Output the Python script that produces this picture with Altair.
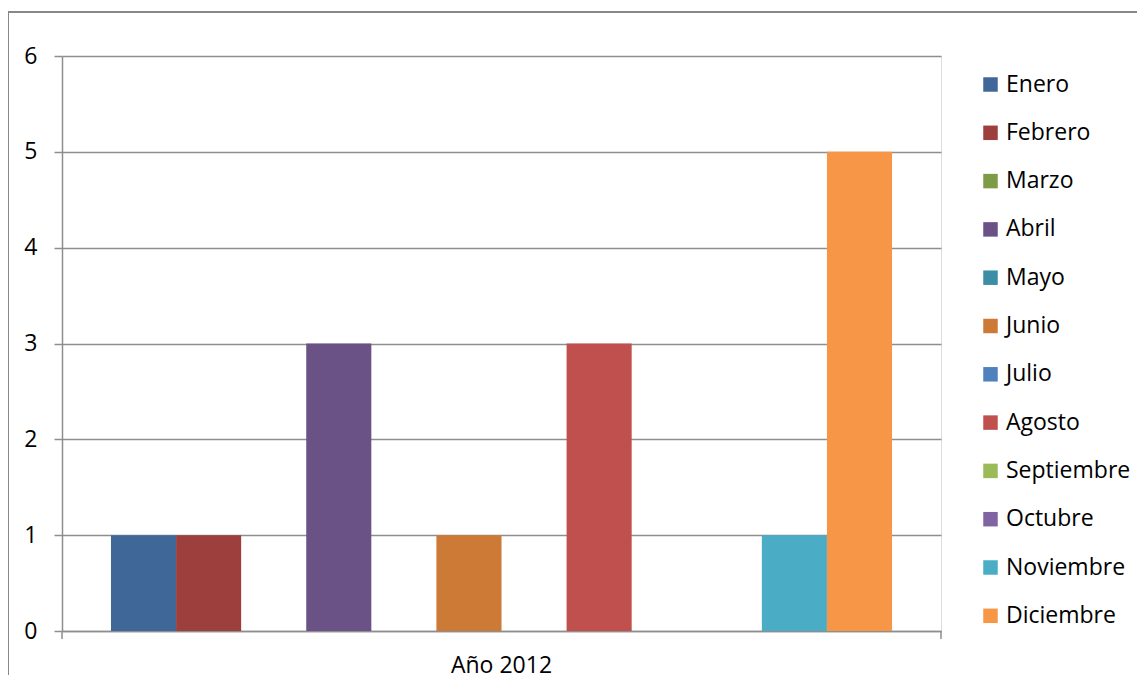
import altair as alt
import pandas as pd

meses = ["Enero", "Febrero", "Marzo", "Abril", "Mayo", "Junio", "Julio",
         "Agosto", "Septiembre", "Octubre", "Noviembre", "Diciembre"]
valores = [1, 1, 0, 3, 0, 1, 0, 3, 0, 0, 1, 5]
colores = ["#3F6899", "#9C3F3D", "#7E9B48", "#6A5186", "#3B8EA5", "#CC7A36",
           "#4F81BD", "#C0504D", "#9BBB59", "#8064A2", "#4BACC6", "#F79646"]
grupo = ["Año 2012"]
y_ticks = [0, 1, 2, 3, 4, 5, 6]

df = pd.DataFrame({"grupo": grupo * len(meses), "mes": meses, "valor": valores})

W, H = 879, 575
FONT = "Open Sans"
FS = 23
GRID = "#8E8E8E"

bars = alt.Chart(df).mark_bar().encode(
    x=alt.X("grupo:N",
            scale=alt.Scale(paddingInner=0, paddingOuter=0.0627),
            axis=alt.Axis(title=None, labelAngle=0, ticks=False, domain=True,
                          domainColor=GRID, domainWidth=1.5,
                          labelFontSize=FS, labelFont=FONT, labelColor="#000000",
                          labelPadding=23)),
    xOffset=alt.XOffset("mes:N", sort=meses,
                        scale=alt.Scale(paddingInner=0, paddingOuter=0)),
    y=alt.Y("valor:Q", scale=alt.Scale(domain=[0, 6], nice=False),
            axis=alt.Axis(title=None, values=y_ticks, tickSize=8, tickColor=GRID,
                          tickWidth=1.5, domainColor=GRID, domainWidth=1.5,
                          gridColor=GRID, gridWidth=1.5, grid=True,
                          labelFontSize=FS, labelFont=FONT, labelColor="#000000",
                          labelPadding=17)),
    color=alt.Color("mes:N", sort=meses,
                    scale=alt.Scale(domain=meses, range=colores),
                    legend=alt.Legend(title=None, orient="none",
                                      legendX=W + 38, legendY=17,
                                      symbolType="square", symbolSize=210,
                                      symbolStrokeWidth=0,
                                      labelFontSize=FS, labelFont=FONT,
                                      labelColor="#000000", rowPadding=24.3,
                                      labelOffset=4)),
)

end_ticks = alt.Chart(pd.DataFrame({"k": [0, 1]})).mark_rule(
    color=GRID, strokeWidth=1.5
).encode(
    x=alt.X("k:Q", scale=alt.Scale(domain=[0, 1]), axis=None),
    y=alt.value(H), y2=alt.value(H + 8)
)

border = alt.Chart(pd.DataFrame({"k": [0]})).mark_rect(
    fill=None, stroke="#888888", strokeWidth=2
).encode(
    x=alt.value(-54), x2=alt.value(W + 260),
    y=alt.value(-44), y2=alt.value(H + 100)
)

chart = alt.layer(border, bars, end_ticks).resolve_scale(x="independent").properties(
    width=W, height=H,
    autosize=alt.AutoSizeParams(type="none"),
    padding={"left": 54, "top": 48, "right": 196, "bottom": 44},
).configure_view(stroke=None).configure(background="#FFFFFF")

chart.save("out.html", embed_options={"renderer": "svg", "actions": False})
